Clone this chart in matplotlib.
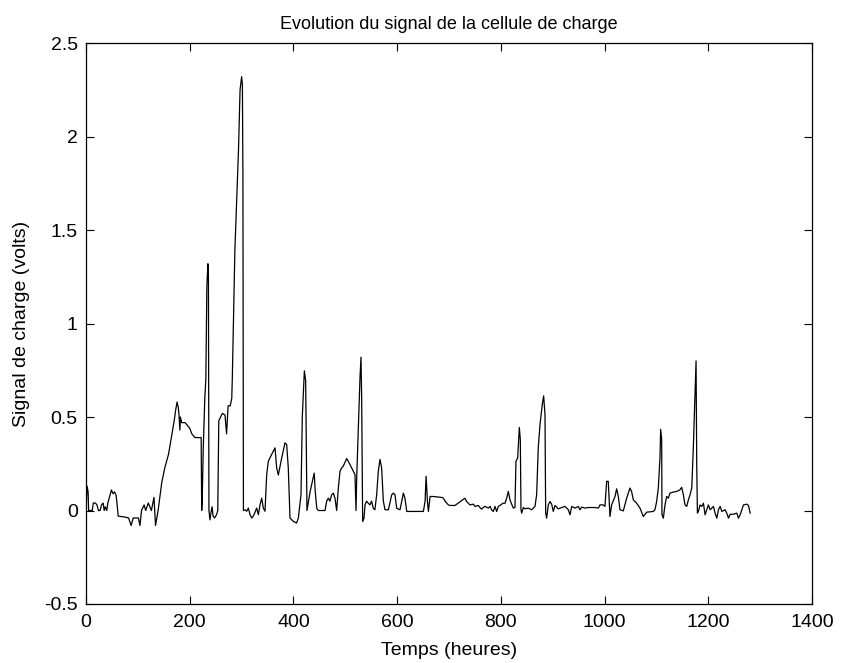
import matplotlib
matplotlib.use("Agg")
import matplotlib.pyplot as plt

plt.rcParams['font.family'] = ['Liberation Sans', 'DejaVu Sans']

title = "Evolution du signal de la cellule de charge"
xlabel = "Temps (heures)"
ylabel = "Signal de charge (volts)"
xticks = [0, 200, 400, 600, 800, 1000, 1200, 1400]
yticks = [-0.5, 0, 0.5, 1, 1.5, 2, 2.5]
ytick_labels = ['-0.5', '0', '0.5', '1', '1.5', '2', '2.5']

# Segment 1: 0 - 222 h
temps_1 = [0, 2, 4, 5, 12, 14, 18, 21, 24, 27, 30, 33, 35, 37, 40, 42, 46, 49,
           52, 55, 58, 60, 62, 75, 82, 87, 91, 101, 104, 107, 112, 115, 120,
           126, 131, 134, 139, 146, 152, 159, 165, 170, 173, 175.5, 178, 179.3,
           181, 182, 184.4, 191, 200, 204, 210, 222]
signal_1 = [0.0, 0.13, 0.1, 0.0, 0.0, 0.04, 0.04, 0.03, 0.0, 0.0, 0.03, 0.04,
            0.0, 0.02, 0.0, 0.04, 0.08, 0.11, 0.09, 0.1, 0.08, 0.03, -0.03,
            -0.035, -0.04, -0.08, -0.04, -0.04, -0.08, 0.0, 0.03, 0.0, 0.04,
            0.0, 0.07, -0.08, 0.0, 0.15, 0.23, 0.3, 0.4, 0.48, 0.54, 0.58, 0.55,
            0.51, 0.43, 0.5, 0.47, 0.47, 0.44, 0.41, 0.39, 0.39]

# Segment 2: 223 - 303.5 h (two big peaks)
temps_2 = [223, 224, 226, 229, 231, 233, 235, 236, 237, 239, 241, 243, 245,
           248, 252, 254, 256, 263, 268, 271, 274, 278, 281, 282, 287, 294,
           297, 300, 301.5, 302.5, 303.5]
signal_2 = [0.0, 0.05, 0.33, 0.6, 0.7, 1.2, 1.32, 1.25, 0.0, -0.05, -0.01,
            0.02, -0.03, -0.04, -0.02, 0.0, 0.48, 0.52, 0.51, 0.41, 0.56, 0.56,
            0.6, 0.7, 1.39, 1.93, 2.25, 2.32, 2.28, 1.8, 0.0]

# Segment 3: 306 - 445 h
temps_3 = [306.6, 309.8, 313, 316.2, 319.4, 322.6, 325.8, 329, 332.3, 335.5,
           338.7, 341.9, 345.1, 348.3, 351.5, 357.9, 364.4, 367.6, 370.8,
           377.2, 383.6, 386.9, 390, 393.3, 399.7, 406, 409.4, 414.5, 417, 421,
           423.5, 426, 429, 432, 436, 440, 442, 445]
signal_3 = [0.004, -0.004, 0.013, -0.022, -0.04, -0.03, -0.01, 0.013, -0.022,
            0.03, 0.066, 0.013, -0.004, 0.19, 0.264, 0.3, 0.335, 0.228, 0.19,
            0.28, 0.362, 0.353, 0.228, -0.04, -0.058, -0.067, -0.04, 0.084, 0.5,
            0.747, 0.694, 0.0, 0.05, 0.1, 0.15, 0.2, 0.1, 0.01]

# Segment 4: 448 - 702 h
temps_4 = [448, 460.8, 464, 467.3, 470.4, 473.6, 476.9, 480, 483.3, 486.5,
           489.7, 492.9, 496, 502.6, 509, 515.4, 518.6, 520.6, 521.9, 525,
           528.3, 530.2, 531.5, 533.4, 536, 538, 541, 544.3, 547.5, 550.6,
           553.9, 557, 560.4, 563.6, 566.8, 570, 573.3, 576.5, 583, 589.4,
           592.6, 595.8, 599, 605.5, 611.9, 615, 618.4, 624.8, 650.5, 653.8,
           655.7, 658.3, 660.2, 663.4, 669.8, 685.9, 689, 692.4, 695.6, 698.8,
           702]
signal_4 = [0.0, 0.0, 0.05, 0.066, 0.05, 0.084, 0.093, 0.066, 0.0, 0.12, 0.21,
            0.228, 0.237, 0.278, 0.246, 0.21, 0.192, 0.0, 0.174, 0.443, 0.712,
            0.82, 0.6, -0.059, -0.041, 0.03, 0.05, 0.039, 0.03, 0.05, 0.012,
            0.004, 0.084, 0.21, 0.273, 0.228, 0.05, 0.004, 0.004, 0.084, 0.093,
            0.084, 0.012, 0.004, 0.093, 0.066, -0.005, -0.005, -0.005, 0.05,
            0.183, 0.05, -0.005, 0.075, 0.075, 0.07, 0.066, 0.05, 0.039, 0.03,
            0.027]

# Segment 5: 711 - 991 h
temps_5 = [711.4, 730.7, 733.9, 740.3, 746.8, 750, 756.4, 759.6, 762.9, 766,
           769.3, 775.7, 779, 782.1, 785.4, 788.6, 791.8, 795, 798.2, 801.4,
           804.6, 807.9, 811, 814.3, 817.5, 820.7, 824, 827.1, 829, 832.3,
           835.5, 837.4, 838.7, 840, 843.2, 846.4, 852.8, 859.3, 865.7, 868.9,
           872, 875.4, 879.8, 882.4, 885, 886.3, 888.2, 891.4, 894.7, 897.9,
           901, 904.3, 910.7, 917.2, 923.6, 930, 933.2, 936.5, 943, 949.3,
           952.5, 955.8, 962.2, 968.6, 981.5, 988, 991]
signal_5 = [0.027, 0.066, 0.048, 0.03, 0.034, 0.022, 0.027, 0.016, 0.007,
            0.016, 0.022, 0.013, 0.022, 0.004, -0.005, 0.022, -0.005, 0.022,
            0.027, 0.034, 0.039, 0.039, 0.066, 0.102, 0.057, 0.034, 0.013,
            0.016, 0.263, 0.281, 0.444, 0.38, 0.004, -0.014, 0.016, 0.009,
            0.013, 0.004, 0.022, 0.084, 0.335, 0.46, 0.568, 0.613, 0.514,
            -0.014, -0.041, 0.03, 0.048, 0.034, -0.005, 0.027, 0.009, 0.016,
            0.022, 0.004, -0.023, 0.022, 0.013, 0.022, 0.004, 0.018, 0.013,
            0.016, 0.016, 0.013, 0.03]

# Segment 6: 997 - 1281 h
temps_6 = [997.4, 1000.6, 1003.9, 1007, 1010.3, 1013.5, 1020, 1023.2, 1026.4,
           1029.6, 1036, 1042.5, 1048.8, 1052, 1055.3, 1061.7, 1068.2, 1074.6,
           1081, 1093.8, 1097, 1100.3, 1103.5, 1106.7, 1108, 1110, 1110.6,
           1113.2, 1116.4, 1119.6, 1122.8, 1126, 1132.5, 1139, 1145.4, 1148.6,
           1151.8, 1155, 1158.3, 1161.5, 1164.7, 1168, 1171, 1174.4, 1176.3,
           1177.6, 1178.9, 1180.8, 1184, 1187.3, 1190.5, 1193.7, 1197, 1200,
           1203.4, 1206.6, 1209.8, 1213, 1216.3, 1219.5, 1222.7, 1226, 1232.3,
           1235.5, 1238.8, 1242, 1248.4, 1254.9, 1258, 1261.3, 1264.5, 1267.7,
           1274.2, 1277.4, 1280.6]
signal_6 = [0.03, 0.022, 0.156, 0.156, -0.032, 0.03, 0.075, 0.116, 0.075,
            0.004, -0.002, 0.066, 0.12, 0.102, 0.057, 0.039, 0.013, -0.032,
            -0.009, -0.005, 0.004, 0.048, 0.12, 0.281, 0.434, 0.38, -0.023,
            -0.041, 0.03, 0.075, 0.066, 0.093, 0.099, 0.102, 0.111, 0.124,
            0.084, 0.03, 0.022, 0.057, 0.084, 0.12, 0.335, 0.64, 0.8, 0.245,
            -0.014, -0.005, 0.03, 0.022, 0.039, -0.023, 0.004, 0.03, 0.004,
            0.013, 0.022, -0.014, -0.041, 0.004, 0.022, -0.005, 0.004, -0.014,
            -0.041, -0.02, -0.02, -0.014, -0.041, -0.023, 0.004, 0.03, 0.034,
            0.027, -0.014]

temps = temps_1 + temps_2 + temps_3 + temps_4 + temps_5 + temps_6
signal = signal_1 + signal_2 + signal_3 + signal_4 + signal_5 + signal_6

fig = plt.figure(figsize=(8.41, 6.63), dpi=100)
ax = fig.add_axes([0.1023, 0.089, 0.8633, 0.846])
ax.plot(temps, signal, color='black', linewidth=0.9)
ax.set_xlim(0, 1400)
ax.set_ylim(-0.5, 2.5)
ax.set_xticks(xticks)
ax.set_xticklabels([str(t) for t in xticks])
ax.set_yticks(yticks)
ax.set_yticklabels(ytick_labels)
ax.tick_params(direction='in', top=True, right=True, labelsize=14, length=6)
ax.tick_params(axis='x', pad=7)
ax.tick_params(axis='y', pad=6)
for s in ax.spines.values():
    s.set_linewidth(0.9)
ax.set_title(title, fontsize=13, pad=10)
ax.set_xlabel(xlabel, fontsize=14, labelpad=8)
ax.set_ylabel(ylabel, fontsize=14, labelpad=10)
fig.savefig("out.png", dpi=100)
